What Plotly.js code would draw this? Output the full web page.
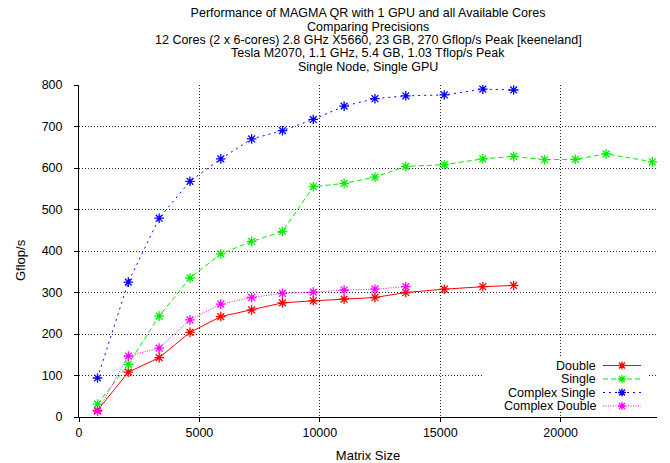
<!DOCTYPE html>
<html>
<head>
<meta charset="utf-8">
<script src="https://cdn.plot.ly/plotly-3.0.1.min.js"></script>
<style>html,body{margin:0;padding:0;background:#fff;}#chart{width:670px;height:463px;}</style>
</head>
<body>
<div id="chart"></div>
<script>
// ---- data ----
const sizesShort = [768, 2048, 3328, 4608, 5888, 7168, 8448, 9728, 11008, 12288, 13568];
const sizesMid = [768, 2048, 3328, 4608, 5888, 7168, 8448, 9728, 11008, 12288, 13568, 15168, 16768, 18048];
const sizesLong = [768, 2048, 3328, 4608, 5888, 7168, 8448, 9728, 11008, 12288, 13568, 15168, 16768, 18048, 19328, 20608, 21888, 23808];

const doubleVals = [16, 108, 143, 204, 242, 258, 275, 280, 284, 288, 300, 308, 314, 317];
const singleVals = [31, 127, 243, 335, 393, 423, 447, 555, 563, 578, 604, 608, 622, 628, 620, 621, 634, 615];
const complexSingleVals = [94, 325, 479, 568, 622, 670, 690, 717, 749, 767, 774, 776, 790, 788];
const complexDoubleVals = [14, 147, 166, 234, 272, 288, 298, 301, 306, 308, 314];

const seriesNames = ["Double", "Single", "Complex Single", "Complex Double"];
const titleLines = [
  "Performance of MAGMA QR with 1 GPU and all Available Cores",
  "Comparing Precisions",
  "12 Cores (2 x 6-cores) 2.8 GHz X5660, 23 GB, 270 Gflop/s Peak [keeneland]",
  "Tesla M2070, 1.1 GHz, 5.4 GB, 1.03 Tflop/s Peak",
  "Single Node, Single GPU"
];
const xTicks = [0, 5000, 10000, 15000, 20000];
const yTicks = [0, 100, 200, 300, 400, 500, 600, 700, 800];

// ---- styling ----
const FONT = "Liberation Sans, Arial, Helvetica, sans-serif";
const HFS = 12.5; // title line size
const LFS = 12.5; // legend size
const TFS = 13;   // axis-title size
const KFS = 12.5; // tick label size
const colors = ["#ff0000", "#00ee00", "#0000ff", "#ff00ff"];
const dashes = ["solid", "5px,3px", "2px,4px", "1px,1.5px"];
const W = 670, H = 463;
const M = {l: 79, r: 13, t: 85, b: 46};
const pw = W - M.l - M.r, ph = H - M.t - M.b;
const px2x = p => (p - M.l) / pw;
const py2y = p => (H - M.b - p) / ph;

const xs = [sizesMid, sizesLong, sizesMid, sizesShort];
const ys = [doubleVals, singleVals, complexSingleVals, complexDoubleVals];

const traces = seriesNames.map((n, i) => ({
  type: "scatter", mode: "lines+markers", name: n,
  x: xs[i], y: ys[i],
  line: {color: colors[i], width: 1, dash: dashes[i]},
  marker: {symbol: "asterisk-open", size: 8, color: colors[i], line: {color: colors[i], width: 1.3}},
  showlegend: false
}));

const annotations = [];
const shapes = [];

// title lines 2..5
const titleY = [13, 26.5, 40, 53.5, 67];
for (let i = 1; i < titleLines.length; i++) {
  annotations.push({text: titleLines[i], xref: "paper", yref: "paper", x: 0.5, y: py2y(titleY[i]),
    xanchor: "center", yanchor: "middle", showarrow: false, borderpad: 0,
    font: {family: FONT, size: HFS, color: "#000"}});
}

// y axis title placed like gnuplot
annotations.push({text: "Gflop/s", xref: "paper", yref: "paper", x: px2x(20), y: py2y(260),
  xanchor: "center", yanchor: "middle", textangle: -90, showarrow: false,
  font: {family: FONT, size: TFS, color: "#000"}});

// custom legend (text right-aligned, sample on right, like gnuplot)
shapes.push({type: "rect", xref: "paper", yref: "paper", x0: px2x(483), x1: px2x(648), y0: py2y(412), y1: py2y(356),
  fillcolor: "#fff", line: {width: 0}, layer: "above"});
const legY = [365.5, 379, 392.5, 406];
seriesNames.forEach((n, i) => {
  annotations.push({text: n, xref: "paper", yref: "paper", x: px2x(597), y: py2y(legY[i]),
    xanchor: "right", yanchor: "middle", showarrow: false, borderpad: 0,
    font: {family: FONT, size: LFS, color: "#000"}});
  shapes.push({type: "line", xref: "paper", yref: "paper", x0: px2x(603), x1: px2x(641), y0: py2y(legY[i]), y1: py2y(legY[i]),
    line: {color: colors[i], width: 1, dash: dashes[i]}, layer: "above"});
  shapes.push({type: "path", xref: "paper", yref: "paper", xsizemode: "pixel", ysizemode: "pixel",
    xanchor: px2x(622), yanchor: py2y(legY[i]),
    path: "M-4,0 L4,0 M0,-4 L0,4 M-3,-3 L3,3 M-3,3 L3,-3",
    line: {color: colors[i], width: 1.3}, layer: "above"});
});

const axisCommon = {
  showline: true, linecolor: "#000", linewidth: 1,
  ticks: "outside", ticklen: 4, tickcolor: "#000", tickwidth: 1,
  showgrid: true, gridcolor: "#222", gridwidth: 1, griddash: "1px,2px",
  zeroline: false, mirror: false,
  tickfont: {family: FONT, size: KFS, color: "#000"}
};

const layout = {
  width: W, height: H,
  margin: M,
  paper_bgcolor: "#fff", plot_bgcolor: "#fff",
  font: {family: FONT, size: 12, color: "#000"},
  title: {text: titleLines[0], xref: "paper", x: 0.5, xanchor: "center", yref: "container", y: 1 - titleY[0] / H, yanchor: "middle",
    font: {family: FONT, size: HFS, color: "#000"}},
  xaxis: Object.assign({}, axisCommon, {range: [0, 24000], tickvals: xTicks, ticktext: xTicks.map(String),
    title: {text: "Matrix Size", font: {family: FONT, size: TFS, color: "#000"}, standoff: 12}}),
  yaxis: Object.assign({}, axisCommon, {range: [0, 800], tickvals: yTicks, ticktext: yTicks.map(String),
    ticklabelstandoff: 9}),
  showlegend: false,
  annotations: annotations,
  shapes: shapes
};

Plotly.newPlot("chart", traces, layout, {displayModeBar: false, staticPlot: true});
</script>
</body>
</html>
